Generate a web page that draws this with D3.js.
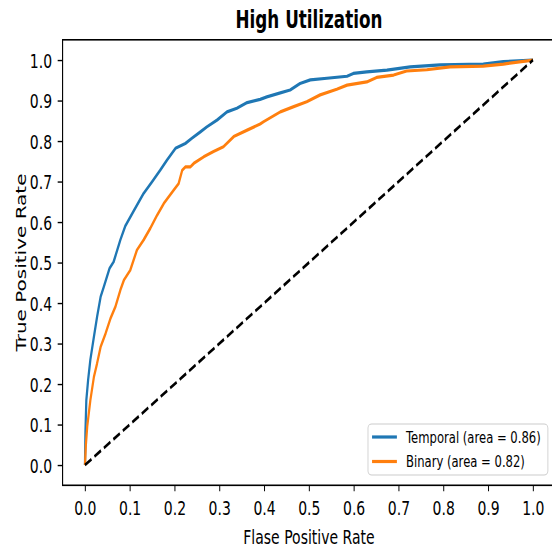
<!DOCTYPE html>
<html>
<head>
<meta charset="utf-8">
<script src="https://cdn.jsdelivr.net/npm/d3@7"></script>
<style>
html,body{margin:0;padding:0;background:#fff;}
svg{display:block;}
text{font-family:"DejaVu Sans",sans-serif;fill:#000;}
</style>
</head>
<body>
<script>
// ---- data ----
const xTicks = [0.0,0.1,0.2,0.3,0.4,0.5,0.6,0.7,0.8,0.9,1.0];
const yTicks = [0.0,0.1,0.2,0.3,0.4,0.5,0.6,0.7,0.8,0.9,1.0];
const seriesNames = ["Temporal (area = 0.86)", "Binary (area = 0.82)"];
const seriesColors = ["#1f77b4", "#ff7f0e"];
const temporalFpr = [0,0.001,0.003,0.007,0.012,0.02,0.027,0.035,0.042,0.055,0.064,0.079,0.09,0.109,0.131,0.15,0.168,0.183,0.202,0.224,0.239,0.258,0.272,0.295,0.317,0.339,0.362,0.391,0.406,0.436,0.458,0.48,0.503,0.54,0.585,0.599,0.629,0.674,0.726,0.793,0.889,0.934,1.0];
const temporalTpr = [0,0.08,0.16,0.21,0.26,0.317,0.366,0.416,0.44,0.486,0.502,0.556,0.59,0.628,0.671,0.70,0.728,0.753,0.782,0.794,0.807,0.823,0.835,0.852,0.872,0.881,0.895,0.903,0.909,0.919,0.926,0.942,0.951,0.955,0.96,0.967,0.971,0.975,0.983,0.988,0.99,0.996,1.0];
const binaryFpr = [0,0.002,0.005,0.012,0.02,0.027,0.035,0.046,0.057,0.068,0.079,0.087,0.101,0.116,0.131,0.146,0.161,0.176,0.198,0.209,0.217,0.224,0.235,0.243,0.265,0.287,0.309,0.332,0.362,0.391,0.399,0.436,0.466,0.495,0.525,0.562,0.585,0.629,0.651,0.689,0.718,0.763,0.815,0.889,0.934,1.0];
const binaryTpr = [0,0.05,0.095,0.16,0.218,0.251,0.292,0.325,0.362,0.391,0.432,0.457,0.481,0.531,0.556,0.585,0.617,0.646,0.679,0.695,0.728,0.736,0.736,0.745,0.761,0.774,0.786,0.811,0.827,0.842,0.848,0.872,0.885,0.897,0.914,0.928,0.938,0.946,0.957,0.963,0.973,0.976,0.983,0.985,0.99,1.0];
const diagX = [0,1];
const diagY = [0,1];

// ---- layout (drawn in a wide frame, then squeezed horizontally) ----
const W = 552, H = 549, SX = 0.7;
const svg = d3.select("body").append("svg").attr("width", W).attr("height", H);
const g = svg.append("g").attr("transform", `scale(${SX},1)`);

const pL = 89.4, pR = 793.4, pT = 39.8, pB = 485.3;
const x = d3.scaleLinear().domain([-0.05,1.05]).range([pL,pR]);
const y = d3.scaleLinear().domain([-0.05,1.05]).range([pB,pT]);

const series = [
  {name: seriesNames[0], color: seriesColors[0], pts: temporalFpr.map((v,i)=>[v,temporalTpr[i]])},
  {name: seriesNames[1], color: seriesColors[1], pts: binaryFpr.map((v,i)=>[v,binaryTpr[i]])}
];

const line = d3.line().x(d=>x(d[0])).y(d=>y(d[1]));

// curves
series.forEach(s=>{
  g.append("path").attr("d", line(s.pts)).attr("fill","none")
    .attr("stroke", s.color).attr("stroke-width", 3.2)
    .attr("stroke-linejoin","round").attr("stroke-linecap","butt");
});
// diagonal
g.append("path").attr("d", line(diagX.map((v,i)=>[v,diagY[i]])))
  .attr("fill","none").attr("stroke","#000").attr("stroke-width",3)
  .attr("stroke-dasharray","11,5");

// axes via d3
const xAxis = d3.axisBottom(x).tickValues(xTicks).tickFormat(d3.format(".1f")).tickSize(6).tickPadding(9);
const yAxis = d3.axisLeft(y).tickValues(yTicks).tickFormat(d3.format(".1f")).tickSize(7).tickPadding(8);
const gx = g.append("g").attr("transform", `translate(0,${pB})`).call(xAxis);
const gy = g.append("g").attr("transform", `translate(${pL},0)`).call(yAxis);
[gx,gy].forEach(a=>{
  a.select(".domain").remove();
  a.selectAll("line").attr("stroke","#000").attr("stroke-width",1.4);
  a.selectAll("text").attr("font-size",20).attr("font-family","DejaVu Sans").attr("fill","#000");
});
gy.selectAll("text").attr("dy","0.36em");
gx.selectAll("text").attr("dy","0.72em");

// frame
g.append("rect").attr("x",pL).attr("y",pT).attr("width",pR-pL).attr("height",pB-pT)
  .attr("fill","none").attr("stroke","#000").attr("stroke-width",1.6);

// title & labels
g.append("text").attr("x",(pL+pR)/2).attr("y",28).attr("text-anchor","middle")
  .attr("font-size",24).attr("font-weight","bold").text("High Utilization");
g.append("text").attr("x",(pL+pR)/2).attr("y",544).attr("text-anchor","middle")
  .attr("font-size",20).text("Flase Positive Rate");
g.append("text").attr("transform",`translate(37,${(pT+pB)/2}) rotate(-90)`)
  .attr("text-anchor","middle").attr("font-size",20).text("True Positive Rate");

// legend
const lg = g.append("g");
lg.append("rect").attr("x",525.7).attr("y",424).attr("width",257).attr("height",51)
  .attr("rx",5.5).attr("ry",4).attr("fill","#fff").attr("fill-opacity",0.8)
  .attr("stroke","#ccc").attr("stroke-width",1.2);
series.forEach((s,i)=>{
  const ly = 437 + i*24.5;
  lg.append("line").attr("x1",531.5).attr("x2",567).attr("y1",ly).attr("y2",ly)
    .attr("stroke",s.color).attr("stroke-width",3.2);
  lg.append("text").attr("x",580).attr("y",ly+6).attr("font-size",16.6).text(s.name);
});
</script>
</body>
</html>
